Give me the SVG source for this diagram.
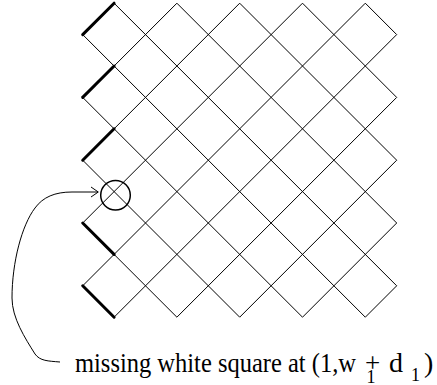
<svg xmlns="http://www.w3.org/2000/svg" width="437" height="385" viewBox="0 0 437 385">
<style>
.g line{stroke:#000;stroke-width:1;fill:none}
.thick line{stroke:#000;stroke-width:3;stroke-linecap:round}
.c{fill:none;stroke:#000;stroke-width:1.5}
</style>
<rect width="437" height="385" fill="#fff"/>
<g id="grid" class="g">
<line x1="82.7" y1="34.6" x2="114.1" y2="3.2"/>
<line x1="82.7" y1="97.4" x2="176.9" y2="3.2"/>
<line x1="82.7" y1="160.2" x2="239.7" y2="3.2"/>
<line x1="82.7" y1="223" x2="302.5" y2="3.2"/>
<line x1="82.7" y1="285.8" x2="365.3" y2="3.2"/>
<line x1="114.1" y1="317.2" x2="396.7" y2="34.6"/>
<line x1="176.9" y1="317.2" x2="396.7" y2="97.4"/>
<line x1="239.7" y1="317.2" x2="396.7" y2="160.2"/>
<line x1="302.5" y1="317.2" x2="396.7" y2="223"/>
<line x1="365.3" y1="317.2" x2="396.7" y2="285.8"/>
<line x1="114.1" y1="3.2" x2="396.7" y2="285.8"/>
<line x1="176.9" y1="3.2" x2="396.7" y2="223"/>
<line x1="239.7" y1="3.2" x2="396.7" y2="160.2"/>
<line x1="302.5" y1="3.2" x2="396.7" y2="97.4"/>
<line x1="365.3" y1="3.2" x2="396.7" y2="34.6"/>
<line x1="82.7" y1="34.6" x2="365.3" y2="317.2"/>
<line x1="82.7" y1="97.4" x2="302.5" y2="317.2"/>
<line x1="82.7" y1="160.2" x2="239.7" y2="317.2"/>
<line x1="82.7" y1="223" x2="176.9" y2="317.2"/>
<line x1="82.7" y1="285.8" x2="114.1" y2="317.2"/>
</g>
<g id="thick-edges" class="thick">
<line x1="82.7" y1="34.6" x2="114.1" y2="3.2"/>
<line x1="82.7" y1="97.4" x2="114.1" y2="66"/>
<line x1="82.7" y1="160.2" x2="114.1" y2="128.8"/>
<line x1="82.7" y1="223" x2="114.1" y2="254.4"/>
<line x1="82.7" y1="285.8" x2="114.1" y2="317.2"/>
</g>
<g id="marker-circle">
<circle class="c" cx="115.5" cy="195.3" r="14.8"/>
</g>
<g id="connectors" fill="none" stroke="#000" stroke-width="1">
<path d="M60,362 C48,361 40,361 35,354 C25,338 12,318 12,298 C12,262 22,225 35,208 C43,197 55,192 72,192 L98,192"/>
<polyline points="91,187 98.3,192 91,197"/>
</g>
<g id="label" font-family="'Liberation Serif', 'Times New Roman', serif" fill="#000">
<text x="75" y="372" font-size="28" textLength="281" lengthAdjust="spacingAndGlyphs">missing white square at (1,w</text>
<text x="366.5" y="382.5" font-size="18">1</text>
<text x="365" y="372" font-size="27">+</text>
<text x="389" y="372" font-size="28">d</text>
<text x="411" y="381" font-size="18">1</text>
<text x="424" y="372" font-size="28">)</text>
</g>
</svg>
